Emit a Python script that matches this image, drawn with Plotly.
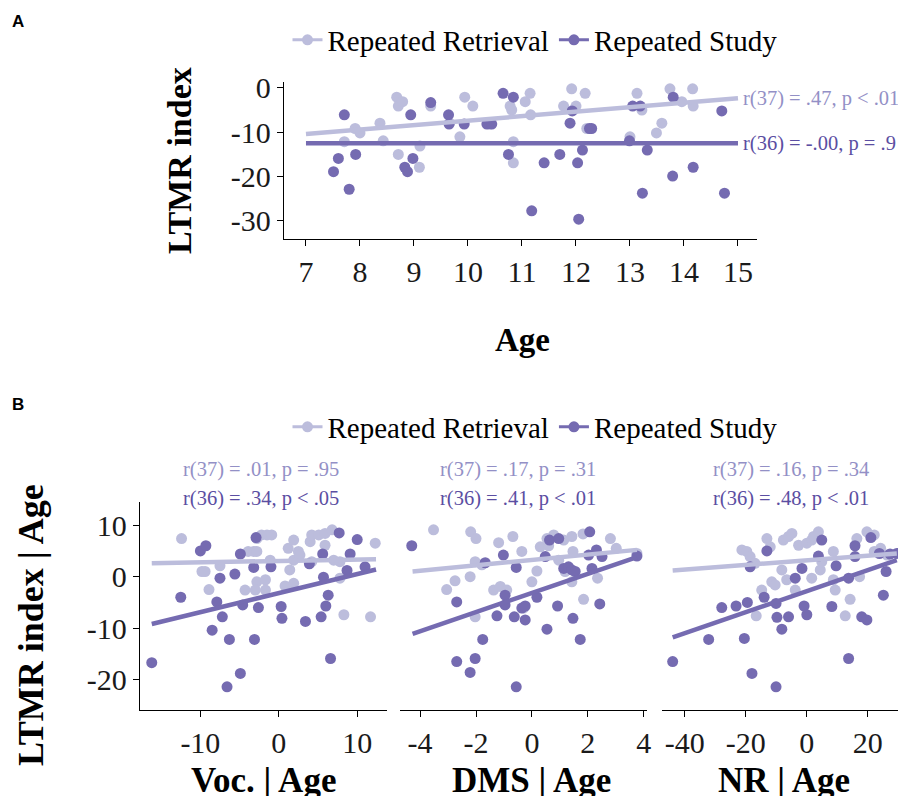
import plotly.graph_objects as go

# ---------------- data ----------------
# Panel A: LTMR index by Age
ageA_ret = [7.71, 7.91, 8.00, 8.37, 8.43, 8.68, 8.71, 8.79, 8.71, 9.11, 9.10, 9.31, 9.66, 9.85, 9.94,
            10.09, 10.40, 10.78, 10.81, 10.84, 10.84, 11.06, 11.15, 11.16, 11.77, 11.92, 12.00, 12.17,
            12.20, 13.00, 13.13, 13.22, 13.49, 13.59, 13.74, 13.96, 14.17, 14.16, 11.95]
ltmrA_ret = [-12.2, -9.2, -10.2, -8.0, -12.0, -2.1, -4.1, -3.1, -15.1, -13.2, -18.0, -4.1, -8.0, -11.1, -2.1,
             -4.1, -8.2, -4.1, -5.0, -12.2, -17.0, -3.1, -1.2, -6.1, -4.1, -0.2, -4.1, -1.2,
             -9.2, -11.1, -1.2, -5.0, -10.2, -8.0, -0.2, -3.1, -4.1, -0.2, -5.0]
ageA_stu = [7.51, 7.60, 7.71, 7.80, 7.92, 8.83, 8.88, 8.94, 8.98, 9.31, 9.64, 9.65, 9.93, 10.35, 10.44,
            10.65, 10.84, 10.75, 11.18, 11.41, 11.70, 11.89, 11.93, 12.03, 12.05, 12.12, 12.25, 12.29,
            12.99, 13.05, 13.19, 13.23, 13.32, 13.80, 13.79, 14.17, 14.70, 14.75]
ltmrA_stu = [-19.0, -16.0, -6.1, -23.0, -15.1, -18.0, -19.0, -6.1, -16.0, -3.3, -6.1, -8.2, -8.2, -8.2, -8.2,
             -1.2, -2.1, -15.1, -27.9, -17.0, -15.1, -8.0, -5.2, -17.0, -29.8, -14.1, -9.2, -9.2,
             -12.0, -4.1, -4.1, -23.9, -14.1, -2.1, -20.0, -18.0, -5.2, -23.9]
fitA_x = [7, 15]
fitA_ret = [-10.45, -2.35]
fitA_stu = [-12.57, -12.57]
statA_ret = "r(37) = .47, p < .01"
statA_stu = "r(36) = -.00, p = .9"
ticksA_x = [7, 8, 9, 10, 11, 12, 13, 14, 15]
ticksA_y = [0, -10, -20, -30]

# Panel B: partial correlations
voc_ret_x = [-12.4, -9.8, -9.4, -8.9, -7.5, -4.3, -3.9, -3.2, -2.8, -2.8, -2.2, -1.5, -0.9, -2.8, -1.7,
             -1.7, 0.8, 1.9, 1.2, 1.9, 1.9, 2.5, 4.0, 4.2, 5.1, 5.9, 6.8, 5.9, 7.8, 7.8, 8.3, 11.7, 12.3,
             7.0, -1.1, 1.4, 4.2, 2.7, -3.0]
voc_ret_y = [7.4, 1.0, 1.0, -2.5, 2.1, -2.6, 4.9, 4.9, 4.9, 7.4, 8.1, 8.1, 8.1, -1.0, -0.6,
             -2.6, -1.8, -1.3, 5.5, 7.1, 3.2, 4.9, 6.8, 8.1, 8.1, 8.4, 9.1, 6.1, -0.3, 2.9, -7.4, -7.8, 6.5,
             3.2, 3.2, 1.3, 2.9, 4.2, -2.6]
voc_stu_x = [-16.2, -12.5, -10.0, -9.3, -7.5, -8.5, -7.9, -7.2, -6.3, -6.6, -5.6, -4.9, -4.6, -4.9, -3.2,
             -3.1, -2.6, -2.9, -1.0, 0.3, 0.4, 3.4, 3.9, 5.4, 5.6, 5.7, 6.0, 6.3, 6.6, 7.7, 8.7, 9.1, 10.0, 11.0]
voc_stu_y = [-16.7, -4.0, 5.0, 6.0, -0.3, -10.4, -4.9, -7.8, -12.2, -21.4, 0.5, -18.8, -5.5, 4.4, 1.8,
             -12.2, -6.0, 7.6, 1.9, -5.8, -8.1, -8.7, 2.5, -7.8, 4.4, -0.1, -5.7, -3.6, -15.9, 8.5, 1.2, 4.4, 7.2, 1.9]
voc_fit_x = [-16.2, 12.4]
voc_fit_ret = [2.6, 3.4]
voc_fit_stu = [-9.2, 1.4]

dms_ret_x = [-3.52, -2.19, -2.0, -2.03, -1.79, -2.21, -2.75, -3.05, -2.03, -1.19, -1.37, -1.13, -0.9, -0.68,
             -0.36, 0.18, 0.0, -0.30, 0.3, 0.54, 0.78, 0.6, 0.96, 1.14, 1.43, 1.47, 1.19, 1.43, 1.83, 1.85,
             2.35, 2.81, 3.02, 3.76]
dms_ret_y = [9.1, 8.7, 7.4, 2.9, 2.3, 0.0, -0.8, -2.5, -7.8, 6.6, -2.6, -1.9, -2.6, 7.8,
             4.9, 1.1, -1.0, -6.1, 5.8, 7.4, 8.1, 6.0, 3.2, 7.1, 7.8, 4.9, 1.0, -1.0, 8.3, -4.4,
             -0.3, 7.4, 5.5, 4.5]
dms_stu_x = [-4.3, -2.69, -2.69, -2.03, -2.21, -1.76, -1.67, -1.02, -0.96, -0.96, -1.25, -0.63, -0.56, -0.56,
             -0.36, -0.24, -0.24, 0.18, 0.48, 0.54, 0.63, 0.92, 0.96, 1.14, 1.31, 1.43, 1.55, 1.47, 1.73,
             2.07, 2.03, 2.15, 2.31, 2.43, 2.51, 3.76]
dms_stu_y = [6.0, -4.9, -16.5, -15.9, -18.6, -12.2, 2.7, 4.2, -3.6, -5.5, -7.6, -7.8, 1.8, -21.4,
             -6.1, -5.7, -8.4, -4.0, 3.9, -10.2, 7.1, -5.7, 7.4, 1.6, 1.9, 1.3, 1.0, -8.1, -12.2,
             8.7, 4.2, 1.6, 5.2, -5.3, 3.9, 4.0]
dms_fit_x = [-4.27, 3.76]
dms_fit_ret = [1.0, 5.2]
dms_fit_stu = [-11.1, 3.8]

nr_ret_x = [-21.3, -19.7, -18.6, -17.0, -16.6, -14.8, -13.1, -12.0, -11.5, -10.4, -8.2, -7.7, -6.0, -4.9,
            -6.6, -3.8, -2.7, 0.0, 1.6, 2.2, 3.8, 1.6, 4.4, 4.9, 8.7, 8.7, 9.3, 12.6, 14.2, 16.4, 17.3,
            19.7, 22.1, 22.1, 24.2, 26.3]
nr_ret_y = [5.2, 4.9, 3.9, 2.6, -7.6, -2.6, 7.4, 5.8, -1.0, -1.6, 1.3, 7.1, 7.8, 8.4,
            -0.6, -2.6, 6.1, 6.5, 7.1, 7.8, 8.7, -0.3, 1.3, 2.9, 4.9, -0.6, -2.6, -7.6, -4.4, 7.4, 0.0,
            8.7, 8.1, 4.9, 5.5, 4.2]
nr_stu_x = [-44.0, -32.2, -27.9, -23.2, -20.5, -19.5, -18.0, -18.6, -14.0, -13.1, -10.1, -10.1, -9.8, -8.2,
            -6.0, -3.8, -1.6, -0.9, 0.0, 3.8, 4.9, 9.6, 8.2, 13.7, 13.7, 15.8, 15.8, 18.0, 19.7, 21.0,
            23.8, 25.1, 26.0, 27.3, 29.5]
nr_stu_y = [-16.5, -12.2, -6.0, -5.7, -12.0, -5.0, -18.8, 1.9, -4.0, 5.0, -21.4, -5.2, -7.9, -10.2,
            -7.8, -0.3, 1.6, -5.7, -7.4, 4.0, 7.1, 2.1, -5.8, -0.3, -15.9, 6.0, 3.9, -7.8, -8.4, 7.6,
            4.5, -3.6, 1.0, 4.4, 4.5]
nr_fit_x = [-44.0, 29.5]
nr_fit_ret = [1.2, 4.5]
nr_fit_stu = [-11.8, 3.2]

statsB_ret = ["r(37) = .01, p = .95", "r(37) = .17, p = .31", "r(37) = .16, p = .34"]
statsB_stu = ["r(36) = .34, p < .05", "r(36) = .41, p < .01", "r(36) = .48, p < .01"]
titlesB_x = ["Voc. | Age", "DMS | Age", "NR | Age"]
ticksB_x = [[-10, 0, 10], [-4, -2, 0, 2, 4], [-40, -20, 0, 20]]
ticksB_y = [-20, -10, 0, 10]

series_names = ["Repeated Retrieval", "Repeated Study"]

# ---------------- style ----------------
W, H = 898, 796
C_RET = "#bcbddc"
C_STU = "#756bb1"
T_RET = "#9390c6"
T_STU = "#5b4ea2"
SERIF = "Liberation Serif, Times New Roman, serif"
MS = 11
LW = 4.5
TICK_SIZE = 30


def fx(px):
    return px / W


def fy(px):
    return 1 - px / H


fig = go.Figure()


def panel(xa, ya, ret_x, ret_y, stu_x, stu_y, fit_x, fit_ret, fit_stu):
    fig.add_trace(go.Scatter(x=ret_x, y=ret_y, mode="markers", marker=dict(color=C_RET, size=MS),
                             xaxis=xa, yaxis=ya, showlegend=False, hoverinfo="skip"))
    fig.add_trace(go.Scatter(x=stu_x, y=stu_y, mode="markers", marker=dict(color=C_STU, size=MS),
                             xaxis=xa, yaxis=ya, showlegend=False, hoverinfo="skip"))
    fig.add_trace(go.Scatter(x=fit_x, y=fit_ret, mode="lines", line=dict(color=C_RET, width=LW),
                             xaxis=xa, yaxis=ya, showlegend=False, hoverinfo="skip"))
    fig.add_trace(go.Scatter(x=fit_x, y=fit_stu, mode="lines", line=dict(color=C_STU, width=LW),
                             xaxis=xa, yaxis=ya, showlegend=False, hoverinfo="skip"))


panel("x", "y", ageA_ret, ltmrA_ret, ageA_stu, ltmrA_stu, fitA_x, fitA_ret, fitA_stu)
panel("x2", "y2", voc_ret_x, voc_ret_y, voc_stu_x, voc_stu_y, voc_fit_x, voc_fit_ret, voc_fit_stu)
panel("x3", "y3", dms_ret_x, dms_ret_y, dms_stu_x, dms_stu_y, dms_fit_x, dms_fit_ret, dms_fit_stu)
panel("x4", "y4", nr_ret_x, nr_ret_y, nr_stu_x, nr_stu_y, nr_fit_x, nr_fit_ret, nr_fit_stu)

# legend entries
for lg, xa, ya in [("legend", "x", "y"), ("legend2", "x2", "y2")]:
    for name, col in zip(series_names, [C_RET, C_STU]):
        fig.add_trace(go.Scatter(x=[None], y=[None], mode="lines+markers", name=name,
                                 marker=dict(color=col, size=MS), line=dict(color=col, width=3),
                                 xaxis=xa, yaxis=ya, legend=lg))


def labels(vals):
    return [str(v) for v in vals]


axis_common = dict(showline=True, linecolor="black", linewidth=1.3, ticks="outside", ticklen=6,
                   tickwidth=1.3, tickcolor="black", showgrid=False, zeroline=False, automargin=False,
                   tickfont=dict(family=SERIF, size=TICK_SIZE, color="#1a1a1a"))

yB_dom = [fy(710), fy(502)]
fig.update_layout(
    template="none",
    width=W, height=H, margin=dict(l=0, r=0, t=0, b=0, pad=0, autoexpand=False),
    paper_bgcolor="white", plot_bgcolor="white",
    xaxis=dict(domain=[fx(284), fx(757)], range=[6.593, 15.352], tickvals=ticksA_x,
               ticktext=labels(ticksA_x), anchor="y", ticklabelstandoff=0, **axis_common),
    yaxis=dict(domain=[fy(239), fy(82)], range=[-34.3, 1.36], tickvals=ticksA_y,
               ticktext=labels(ticksA_y), anchor="x", **axis_common),
    xaxis2=dict(domain=[fx(140), fx(387)], range=[-17.7, 13.8], tickvals=ticksB_x[0],
                ticktext=labels(ticksB_x[0]), anchor="y2", ticklabelstandoff=0, **axis_common),
    yaxis2=dict(domain=yB_dom, range=[-25.9, 14.5], tickvals=ticksB_y, ticktext=labels(ticksB_y),
                anchor="x2", **axis_common),
    xaxis3=dict(domain=[fx(400), fx(647)], range=[-4.72, 4.12], tickvals=ticksB_x[1],
                ticktext=labels(ticksB_x[1]), anchor="y3", ticklabelstandoff=0, **axis_common),
    yaxis3=dict(domain=yB_dom, range=[-25.9, 14.5], anchor="x3", visible=False),
    xaxis4=dict(domain=[fx(662), 1.0], range=[-47.5, 29.9], tickvals=ticksB_x[2],
                ticktext=labels(ticksB_x[2]), anchor="y4", ticklabelstandoff=0, **axis_common),
    yaxis4=dict(domain=yB_dom, range=[-25.9, 14.5], anchor="x4", visible=False),
    legend=dict(orientation="h", x=fx(535), y=fy(40), xanchor="center", yanchor="middle",
                font=dict(family=SERIF, size=29, color="black"), bgcolor="rgba(0,0,0,0)",
                itemwidth=30, borderwidth=0),
    legend2=dict(orientation="h", x=fx(535), y=fy(427), xanchor="center", yanchor="middle",
                 font=dict(family=SERIF, size=29, color="black"), bgcolor="rgba(0,0,0,0)",
                 itemwidth=30, borderwidth=0),
    showlegend=True,
)


def note(text, xpx, ypx, size, color, xanchor="center", angle=0, family=SERIF):
    return dict(text=text, x=fx(xpx), y=fy(ypx), xanchor=xanchor, yanchor="middle", textangle=angle,
                font=dict(family=family, size=size, color=color), showarrow=False,
                xref="paper", yref="paper")


STAT_SIZE = 20.5
ann = [
    note("<b>A</b>", 18, 22, 17, "black", family="Liberation Sans, Arial, sans-serif"),
    note("<b>B</b>", 18, 405, 17, "black", family="Liberation Sans, Arial, sans-serif"),
    note("<b>LTMR index</b>", 180, 161, 34, "black", angle=-90),
    note("<b>Age</b>", 522, 340, 33, "black"),
    note("<b>LTMR index | Age</b>", 31, 625, 36, "black", angle=-90),
    note(statA_ret, 741, 98, STAT_SIZE, T_RET, xanchor="left"),
    note(statA_stu, 741, 143, STAT_SIZE, T_STU, xanchor="left"),
]
for cx, sr, ss in zip([261, 518, 791], statsB_ret, statsB_stu):
    ann.append(note(sr, cx, 470, STAT_SIZE, T_RET))
    ann.append(note(ss, cx, 498, STAT_SIZE, T_STU))
for cx, tt in zip([263, 531, 784], titlesB_x):
    ann.append(note("<b>" + tt + "</b>", cx, 780, 35, "black"))
fig.update_layout(annotations=ann)

fig.write_html("out.html", config={"displayModeBar": False},
               post_script="document.body.style.margin='0';document.body.style.overflow='hidden';")
